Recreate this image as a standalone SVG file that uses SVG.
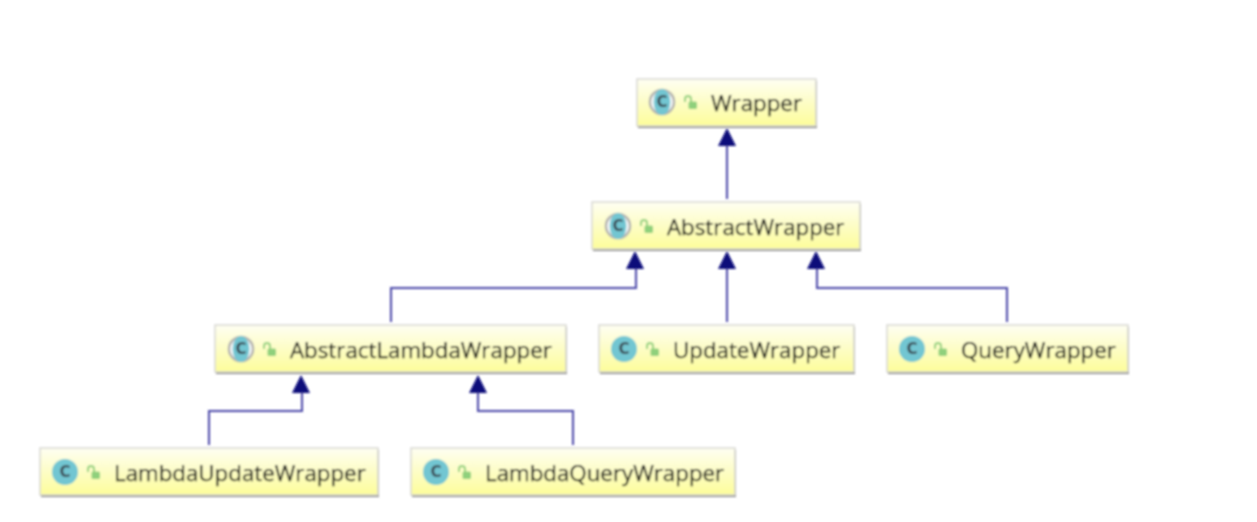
<svg xmlns="http://www.w3.org/2000/svg" width="1257" height="522" viewBox="0 0 1257 522">
  <style>
    .box { fill: url(#boxFill); stroke: #d8d8d2; stroke-width: 1.5; }
    .edge { fill: #808080; }
    .label { font-family: "Open Sans", "DejaVu Sans", sans-serif; font-size: 22.3px; fill: #141412; stroke: #141412; stroke-width: 0.25px; }
    .disc { fill: #72c6d2; }
    .halo { fill: #ffffff; stroke: #b4b4b0; stroke-width: 2.6; }
    .glyph { font-family: "DejaVu Sans", sans-serif; font-size: 15px; font-weight: bold; fill: #3c4a52; text-anchor: middle; }
    .lock { fill: none; stroke: #8fd07c; stroke-width: 2; }
    .lockbody { fill: #8fd07c; }
    .link { fill: none; stroke: #4a47a8; stroke-width: 2; }
    .head { fill: #07077a; }
    .soft { filter: url(#soft); }
  </style>
  <defs>
    <linearGradient id="boxFill" x1="0" y1="0" x2="0" y2="1">
      <stop offset="0" stop-color="#fefef2"/>
      <stop offset="1" stop-color="#fdfd9a"/>
    </linearGradient>
    <filter id="soft" x="-5%" y="-5%" width="110%" height="110%">
      <feGaussianBlur stdDeviation="0.8"/>
    </filter>
    <!-- open padlock beside each class icon -->
    <g id="lockIcon">
      <path class="lock" d="M-5 -1 V-4 A3 3 0 0 1 1 -4 V-1"/>
      <rect class="lockbody" x="-1.500" y="-1.500" width="8.500" height="7.500" rx="1.500"/>
    </g>
  </defs>
  <rect width="1257" height="522" fill="#ffffff"/>

  <g id="connectors" class="soft">
    <path class="link" d="M727 199 V146"/>
    <path class="link" d="M391 322 V288 H636 V269"/>
    <path class="link" d="M727 322 V269"/>
    <path class="link" d="M1007 322 V288 H817 V269"/>
    <path class="link" d="M209 445 V411 H302 V393"/>
    <path class="link" d="M573 445 V411 H478 V393"/>
    <path class="head" d="M727 128 L736 146 L718 146 Z"/>
    <path class="head" d="M635 251 L644 269 L626 269 Z"/>
    <path class="head" d="M727 251 L736 269 L718 269 Z"/>
    <path class="head" d="M816 251 L825 269 L807 269 Z"/>
    <path class="head" d="M301 375 L310 393 L292 393 Z"/>
    <path class="head" d="M478 375 L487 393 L469 393 Z"/>
  </g>

  <g id="wrapper" class="soft">
    <rect class="edge" x="638" y="81" width="179" height="47"/>
    <rect class="box" x="637" y="79" width="179" height="47"/>
    <circle class="halo" cx="662" cy="102" r="12"/>
    <ellipse class="disc" cx="662" cy="102" rx="8.500" ry="13"/>
    <text class="glyph" x="662" y="107">C</text>
    <use href="#lockIcon" x="690" y="103"/>
    <text class="label" x="711" y="111">Wrapper</text>
  </g>

  <g id="abstract-wrapper" class="soft">
    <rect class="edge" x="593" y="204" width="268" height="47"/>
    <rect class="box" x="592" y="202" width="268" height="47"/>
    <circle class="halo" cx="618" cy="226" r="12"/>
    <ellipse class="disc" cx="618" cy="226" rx="8.500" ry="13"/>
    <text class="glyph" x="618" y="231">C</text>
    <use href="#lockIcon" x="646" y="227"/>
    <text class="label" x="667" y="235">AbstractWrapper</text>
  </g>

  <g id="abstract-lambda-wrapper" class="soft">
    <rect class="edge" x="216" y="327" width="351" height="47"/>
    <rect class="box" x="215" y="325" width="351" height="47"/>
    <circle class="halo" cx="241" cy="349" r="12"/>
    <ellipse class="disc" cx="241" cy="349" rx="8.500" ry="13"/>
    <text class="glyph" x="241" y="354">C</text>
    <use href="#lockIcon" x="269" y="350"/>
    <text class="label" x="290" y="358">AbstractLambdaWrapper</text>
  </g>

  <g id="update-wrapper" class="soft">
    <rect class="edge" x="600" y="327" width="255" height="47"/>
    <rect class="box" x="599" y="325" width="255" height="47"/>
    <circle class="disc" cx="624" cy="349" r="13"/>
    <text class="glyph" x="624" y="354">C</text>
    <use href="#lockIcon" x="652" y="350"/>
    <text class="label" x="673" y="358">UpdateWrapper</text>
  </g>

  <g id="query-wrapper" class="soft">
    <rect class="edge" x="888" y="327" width="241" height="47"/>
    <rect class="box" x="887" y="325" width="241" height="47"/>
    <circle class="disc" cx="912" cy="349" r="13"/>
    <text class="glyph" x="912" y="354">C</text>
    <use href="#lockIcon" x="940" y="350"/>
    <text class="label" x="961" y="358">QueryWrapper</text>
  </g>

  <g id="lambda-update-wrapper" class="soft">
    <rect class="edge" x="41" y="450" width="338" height="47"/>
    <rect class="box" x="40" y="448" width="338" height="47"/>
    <circle class="disc" cx="65" cy="472" r="13"/>
    <text class="glyph" x="65" y="477">C</text>
    <use href="#lockIcon" x="93" y="473"/>
    <text class="label" x="114" y="481">LambdaUpdateWrapper</text>
  </g>

  <g id="lambda-query-wrapper" class="soft">
    <rect class="edge" x="412" y="450" width="324" height="47"/>
    <rect class="box" x="411" y="448" width="324" height="47"/>
    <circle class="disc" cx="436" cy="472" r="13"/>
    <text class="glyph" x="436" y="477">C</text>
    <use href="#lockIcon" x="464" y="473"/>
    <text class="label" x="485" y="481">LambdaQueryWrapper</text>
  </g>
</svg>
